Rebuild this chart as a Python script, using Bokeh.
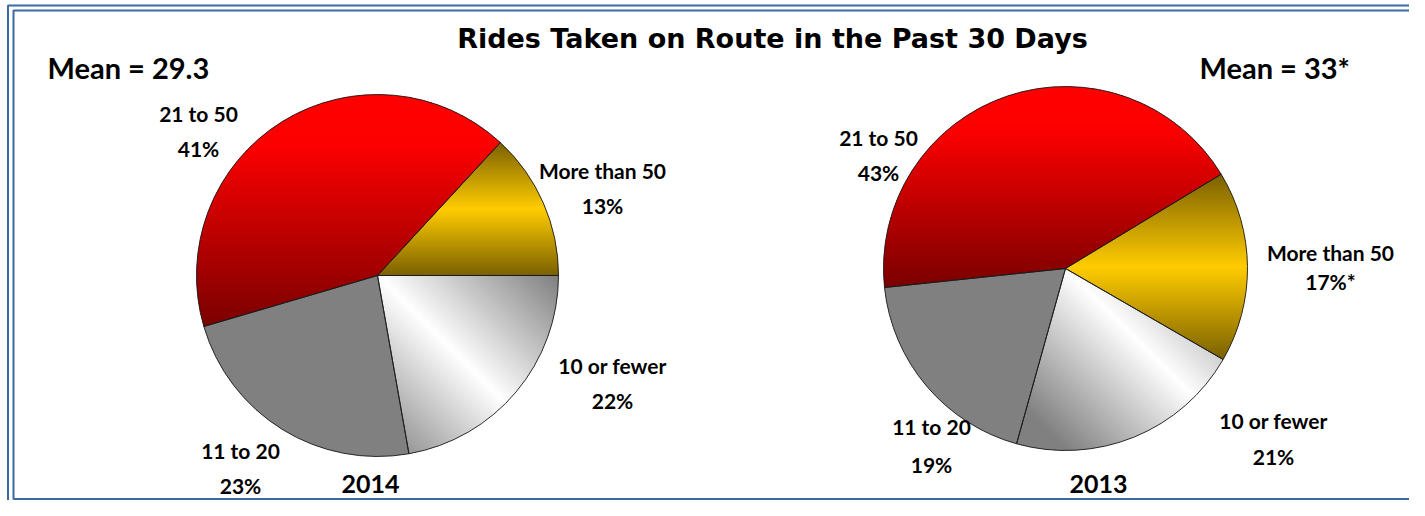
import numpy as np
from bokeh.plotting import figure
from bokeh.models import Range1d, ColumnDataSource
from bokeh.core.properties import value
from bokeh.embed import file_html
from bokeh.resources import INLINE

# ---------------- data ----------------
title_text = "Rides Taken on Route in the Past 30 Days"
categories = ["More than 50", "21 to 50", "11 to 20", "10 or fewer"]
shares_2014 = [13, 41, 23, 22]
shares_2013 = [17, 43, 19, 21]
pct_2014 = ["13%", "41%", "23%", "22%"]
pct_2013 = ["17%*", "43%", "19%", "21%"]
years = ["2014", "2013"]
means = ["Mean = 29.3", "Mean = 33*"]

# ---------------- layout / style (picture pixel coords, y = visual middle of text) ----------------
W, H = 1409, 500
fills = ["gold", "red", "gray", "silver"]

pies = [
    dict(cx=377, cy=275, r=181, start=0.0, shares=shares_2014, pcts=pct_2014,
         lab=[(602, 170), (198, 113), (240, 450), (612, 365)], gap=[35, 35, 35, 35],
         year=years[0], year_pos=(370, 483), mean=means[0], mean_pos=(47, 67)),
    dict(cx=1065, cy=268, r=182, start=-30.0, shares=shares_2013, pcts=pct_2013,
         lab=[(1330, 252), (878, 137), (931, 426), (1273, 420)], gap=[29, 35, 38, 36],
         year=years[1], year_pos=(1098, 483), mean=means[1], mean_pos=(1199, 67)),
]

p = figure(width=W, height=H, output_backend="svg", toolbar_location=None,
           x_range=Range1d(0, W), y_range=Range1d(-H, 0),
           min_border=0)
p.axis.visible = False
p.grid.visible = False
p.outline_line_color = None
p.background_fill_color = "white"
p.border_fill_color = "white"


def hex2rgb(h):
    h = h.lstrip("#")
    return np.array([int(h[i:i + 2], 16) for i in (0, 2, 4)], dtype=float)


def interp(stops, t):
    t = min(max(t, stops[0][0]), stops[-1][0])
    for (t0, c0), (t1, c1) in zip(stops[:-1], stops[1:]):
        if t0 <= t <= t1:
            f = 0 if t1 == t0 else (t - t0) / (t1 - t0)
            c = hex2rgb(c0) * (1 - f) + hex2rgb(c1) * f
            return "#%02x%02x%02x" % tuple(int(round(v)) for v in c)
    return stops[-1][1]


def clip(poly, n, c):
    out = []
    m = len(poly)
    for i in range(m):
        P = poly[i]
        Q = poly[(i + 1) % m]
        dp = n[0] * P[0] + n[1] * P[1] - c
        dq = n[0] * Q[0] + n[1] * Q[1] - c
        if dp >= 0:
            out.append(P)
        if (dp >= 0) != (dq >= 0):
            t = dp / (dp - dq)
            out.append((P[0] + t * (Q[0] - P[0]), P[1] + t * (Q[1] - P[1])))
    return out


STOPS = {
    "red": [(0.0, "#ff0000"), (0.22, "#fc0000"), (1.0, "#7a0000")],
    "gold": [(0.0, "#7a6000"), (0.5, "#ffcc00"), (1.0, "#7a6000")],
    "silver": [(0.0, "#808080"), (0.15, "#808080"), (0.5, "#ffffff"), (0.85, "#808080"), (1.0, "#808080")],
}

xs_all, ys_all, col_all = [], [], []
wx, wy, wr, ws, we = [], [], [], [], []

for pie in pies:
    cx, cy, r = pie["cx"], -pie["cy"], pie["r"]
    shares = np.array(pie["shares"], dtype=float)
    frac = shares / shares.sum()
    ends = np.radians(pie["start"]) + np.cumsum(frac) * 2 * np.pi
    starts = ends - frac * 2 * np.pi
    for k, (a0, a1) in enumerate(zip(starts, ends)):
        wx.append(cx); wy.append(cy); wr.append(r); ws.append(a0); we.append(a1)
        n_arc = max(8, int(np.degrees(a1 - a0) * 1.5))
        ang = np.linspace(a0, a1, n_arc)
        poly = [(cx, cy)] + [(cx + r * np.cos(a), cy + r * np.sin(a)) for a in ang]
        kind = fills[k]
        if kind == "gray":
            xs_all.append([q[0] for q in poly]); ys_all.append([q[1] for q in poly])
            col_all.append("#808080")
            continue
        if kind == "silver":
            n = (np.sqrt(0.5), np.sqrt(0.5))
            c0 = n[0] * cx + n[1] * cy
            lo, hi = c0 - r, c0 + r
            proj = [n[0] * q[0] + n[1] * q[1] for q in poly]
            plo, phi = min(proj), max(proj)
            def tfun(v, lo=lo, hi=hi):
                return (v - lo) / (hi - lo)
        else:
            n = (0.0, -1.0)
            proj = [n[0] * q[0] + n[1] * q[1] for q in poly]
            plo, phi = min(proj), max(proj)
            def tfun(v, lo=plo, hi=phi):
                return (v - lo) / (hi - lo)
        nb = 90
        edges = np.linspace(plo, phi, nb + 1)
        for b in range(nb):
            e0, e1 = edges[b], edges[b + 1] + 0.8
            sub = clip(poly, n, e0)
            sub = clip(sub, (-n[0], -n[1]), -e1)
            if len(sub) < 3:
                continue
            xs_all.append([q[0] for q in sub]); ys_all.append([q[1] for q in sub])
            col_all.append(interp(STOPS[kind], tfun(0.5 * (edges[b] + edges[b + 1]))))

p.patches(xs="xs", ys="ys", fill_color="c", line_color=None,
          source=ColumnDataSource(dict(xs=xs_all, ys=ys_all, c=col_all)))
p.wedge(x=wx, y=wy, radius=wr, start_angle=ws, end_angle=we,
        fill_alpha=0, line_color="#1a1a1a", line_width=0.9)

# border frame
bc = "#3a6a9f"
p.line(x=[7.5, 7.5, W + 5], y=[-H - 5, -5, -5], line_color=bc, line_width=2)
p.line(x=[13, 13, W + 5], y=[-H + 1, -10, -10], line_color=bc, line_width=2)
p.line(x=[13, W + 5], y=[-H + 1, -H + 1], line_color=bc, line_width=3)

# texts
lab_font = value("Lato")
tx, ty, tt = [], [], []
for pie in pies:
    for k, cat in enumerate(categories):
        x, y = pie["lab"][k]
        tx.append(x); ty.append(-y); tt.append(cat)
        tx.append(x); ty.append(-(y + pie["gap"][k])); tt.append(pie["pcts"][k])
p.text(x="x", y="y", text="t", source=ColumnDataSource(dict(x=tx, y=ty, t=tt)),
       text_font=lab_font, text_font_style="bold", text_font_size="21px",
       text_align="center", text_baseline="middle", text_color="black")

p.text(x=[pie["year_pos"][0] for pie in pies], y=[-pie["year_pos"][1] for pie in pies],
       text=[pie["year"] for pie in pies], text_font=lab_font, text_font_style="bold",
       text_font_size="25px", text_align="center", text_baseline="middle",
       text_color="black")
p.text(x=[pie["mean_pos"][0] for pie in pies], y=[-pie["mean_pos"][1] for pie in pies],
       text=[pie["mean"] for pie in pies], text_font=lab_font, text_font_style="bold",
       text_font_size="29px", text_align="left", text_baseline="middle",
       text_color="black")
p.text(x=[772], y=[-38], text=[title_text], text_font=value("DejaVu Sans"),
       text_font_style="bold", text_font_size="27px", text_align="center",
       text_baseline="middle", text_color="black")

open("out.html", "w").write(file_html(p, INLINE))
